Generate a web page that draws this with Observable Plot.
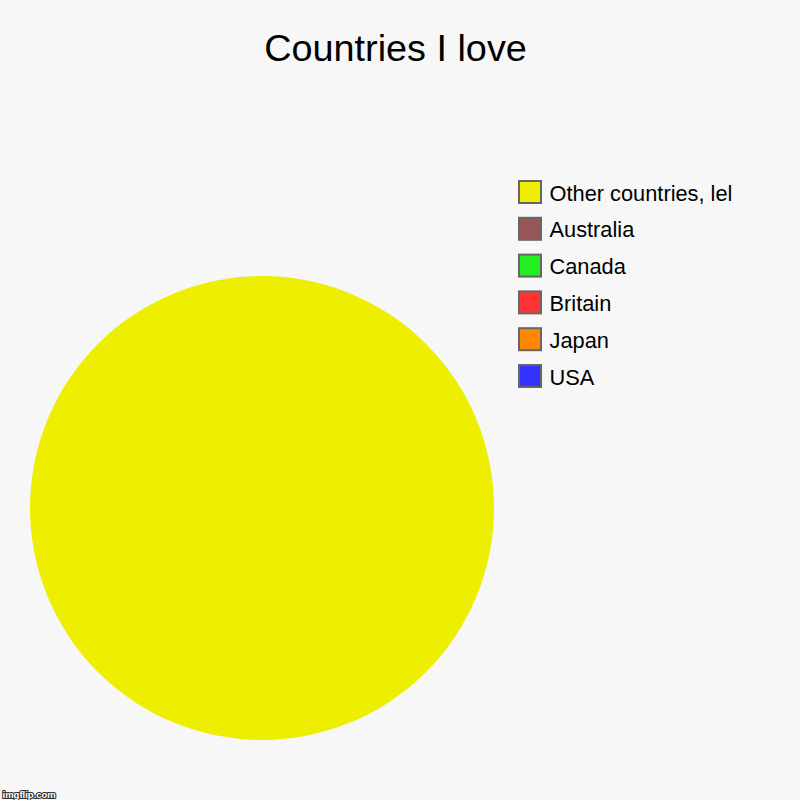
<!DOCTYPE html>
<html>
<head>
<meta charset="utf-8">
<script src="https://cdn.jsdelivr.net/npm/d3@7"></script>
<script src="https://cdn.jsdelivr.net/npm/@observablehq/plot@0.6"></script>
<style>
  html, body { margin: 0; padding: 0; background: #f7f7f7; }
  #chart svg { display: block; }
</style>
</head>
<body>
<div id="chart"></div>
<script>
// ---- Data ----
const title = "Countries I love";
const countries = ["USA", "Japan", "Britain", "Canada", "Australia", "Other countries, lel"];
const values = [0, 0, 0, 0, 0, 100];
const colors = ["#3333ff", "#ff8800", "#ff3333", "#22ee22", "#995555", "#eeee00"];
const watermark = "imgflip.com";

// ---- Layout constants ----
const W = 800, H = 800;
const pieCx = 262, pieCy = 508, pieR = 232;
const legendX = 519, legendTop = 181, legendStep = 36.8, swatch = 22;

const rows = countries.map((c, i) => ({country: c, value: values[i]}));
const arcs = d3.pie().sort(null).value(d => d.value)(rows);
const legendRows = rows.slice().reverse().map((d, i) => ({...d, i}));

const pieMark = (index, scales) => {
  const g = d3.create("svg:g");
  const cx = scales.x(pieCx), cy = scales.y(pieCy);
  const r = scales.x(pieCx + pieR) - cx;
  const arc = d3.arc().innerRadius(0).outerRadius(r);
  g.attr("transform", `translate(${cx},${cy})`)
    .selectAll("path")
    .data(arcs.filter(a => a.endAngle - a.startAngle > 0))
    .join("path")
    .attr("d", arc)
    .attr("fill", a => scales.color(a.data.country));
  return g.node();
};

const chart = Plot.plot({
  width: W,
  height: H,
  margin: 0,
  style: {background: "#f7f7f7", fontFamily: "'Liberation Sans', Arial, sans-serif"},
  x: {domain: [0, W], range: [0, W], axis: null},
  y: {domain: [0, H], range: [0, H], axis: null},
  color: {domain: countries, range: colors},
  marks: [
    pieMark,
    Plot.rect(legendRows, {
      x1: legendX,
      x2: legendX + swatch,
      y1: d => legendTop + d.i * legendStep,
      y2: d => legendTop + d.i * legendStep + swatch,
      fill: "country",
      stroke: "#666666",
      strokeWidth: 2
    }),
    Plot.text(legendRows, {
      x: legendX + swatch + 8,
      y: d => legendTop + d.i * legendStep + 19,
      text: "country",
      textAnchor: "start",
      lineAnchor: "bottom",
      fontSize: 21.8,
      fill: "#000"
    }),
    Plot.text([title], {
      x: 395,
      y: 60,
      text: d => d,
      textAnchor: "middle",
      lineAnchor: "bottom",
      fontSize: 37.8,
      fill: "#000"
    }),
    Plot.text([watermark], {
      x: 2,
      y: 797,
      text: d => d,
      textAnchor: "start",
      lineAnchor: "bottom",
      fontSize: 9.5,
      fontWeight: "bold",
      fill: "#ffffff",
      stroke: "#333333",
      strokeWidth: 2.2
    })
  ]
});

document.getElementById("chart").appendChild(chart);
</script>
</body>
</html>
